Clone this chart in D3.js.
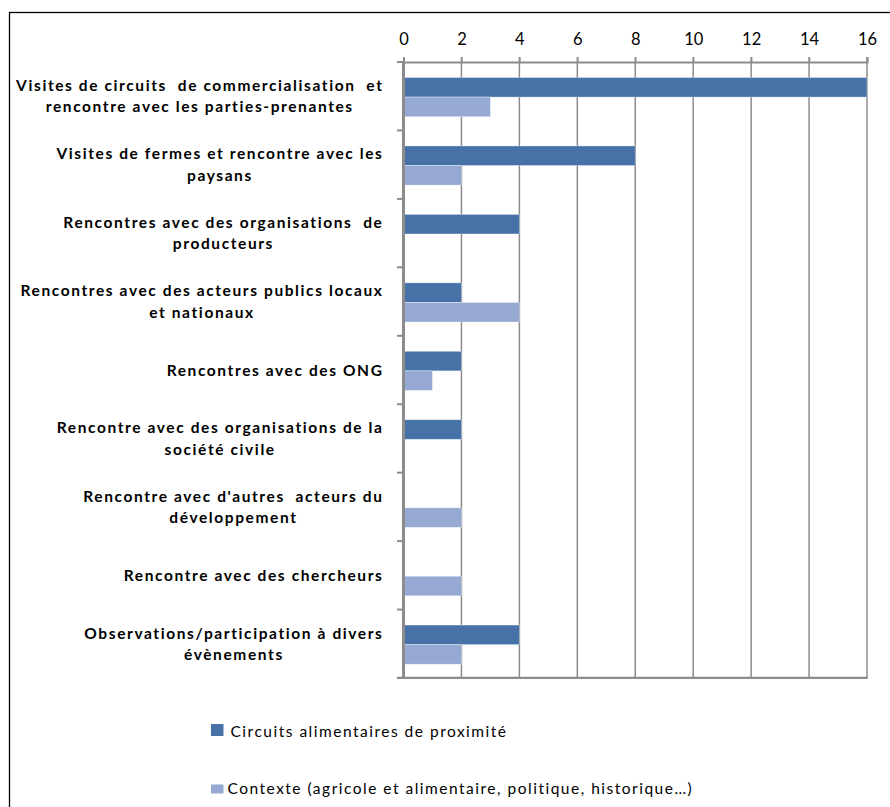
<!DOCTYPE html>
<html>
<head>
<meta charset="utf-8">
<script src="https://cdn.jsdelivr.net/npm/d3@7"></script>
<style>
  html, body { margin: 0; padding: 0; background: #fff; }
  svg { display: block; }
  text { font-family: Lato, "Open Sans", sans-serif; fill: #000; }
</style>
</head>
<body>
<svg id="chart" width="890" height="807"></svg>
<script>
// ---- data ----
const categories = [
  ["Visites de circuits  de commercialisation  et", "rencontre avec les parties-prenantes"],
  ["Visites de fermes et rencontre avec les", "paysans"],
  ["Rencontres avec des organisations  de", "producteurs"],
  ["Rencontres avec des acteurs publics locaux", "et nationaux"],
  ["Rencontres avec des ONG"],
  ["Rencontre avec des organisations de la", "société civile"],
  ["Rencontre avec d'autres  acteurs du", "développement"],
  ["Rencontre avec des chercheurs"],
  ["Observations/participation à divers", "évènements"]
];
const seriesNames = [
  "Circuits alimentaires de proximité",
  "Contexte (agricole et alimentaire, politique, historique…)"
];
const circuitsValues = [16, 8, 4, 2, 2, 2, 0, 0, 4];
const contexteValues = [3, 2, 0, 4, 1, 0, 2, 2, 2];
const xTicks = [0, 2, 4, 6, 8, 10, 12, 14, 16];
const colors = ["#4672a7", "#95a9d2"];

// ---- layout ----
const svg = d3.select("#chart");
svg.append("rect").attr("x", 9.5).attr("y", 12.5).attr("width", 900).attr("height", 820)
  .attr("fill", "#fff").attr("stroke", "#000").attr("stroke-width", 1.3);

const x = d3.scaleLinear().domain([0, 16]).range([403.5, 867]);
const y = d3.scaleBand().domain(d3.range(categories.length)).range([62, 678]).paddingInner(0);
const bw = y.bandwidth();
const barOffset = 15.5, barH = 19.6;

// gridlines
svg.append("g").selectAll("line").data(xTicks.slice(1)).join("line")
  .attr("x1", d => x(d)).attr("x2", d => x(d))
  .attr("y1", 57).attr("y2", 678)
  .attr("stroke", "#8c8c8c").attr("stroke-width", 1.5);

// top axis
const topAxis = d3.axisTop(x).tickValues(xTicks).tickSize(5).tickPadding(12);
const gTop = svg.append("g").attr("transform", "translate(0,62)").call(topAxis);
gTop.select(".domain").attr("stroke", "#8c8c8c").attr("stroke-width", 2);
gTop.selectAll(".tick line").attr("stroke", "#8c8c8c").attr("stroke-width", 1.5);
gTop.selectAll(".tick text").attr("font-size", 16.5).attr("font-family", "Lato, sans-serif").attr("fill", "#000");

// bars
const seriesVals = [circuitsValues, contexteValues];
seriesVals.forEach((vals, s) => {
  svg.append("g").selectAll("rect").data(vals).join("rect")
    .attr("x", x(0))
    .attr("y", (d, i) => y(i) + barOffset + s * barH)
    .attr("width", d => x(d) - x(0))
    .attr("height", barH)
    .attr("fill", colors[s])
    .attr("stroke", d => d > 0 ? "rgba(255,255,255,0.45)" : "none")
    .attr("stroke-width", 0.8);
});

// bottom line
svg.append("line").attr("x1", 397).attr("x2", 867.75).attr("y1", 677.8).attr("y2", 677.8)
  .attr("stroke", "#8c8c8c").attr("stroke-width", 2.3);

// left axis with boundary ticks
const boundaries = d3.range(categories.length + 1).map(i => 62 + i * bw);
svg.append("g").selectAll("line").data(boundaries.slice(0, -1)).join("line")
  .attr("x1", 397).attr("x2", 403).attr("y1", d => d).attr("y2", d => d)
  .attr("stroke", "#8c8c8c").attr("stroke-width", 2);
svg.append("line").attr("x1", 403.5).attr("x2", 403.5).attr("y1", 62).attr("y2", 679)
  .attr("stroke", "#8c8c8c").attr("stroke-width", 3);

// category labels
const labelRight = 383.5, lineH = 21.5, fs = 15.5, ls = 1.6;
const gLab = svg.append("g");
categories.forEach((lines, i) => {
  const c = y(i) + bw / 2;
  const g = gLab.append("g");
  const texts = lines.map(l => g.append("text").attr("font-size", fs).attr("font-weight", "bold")
    .attr("letter-spacing", ls)
    .attr("text-anchor", "middle").style("white-space", "pre").text(l));
  const widths = texts.map(t => t.node().getComputedTextLength());
  const blockW = d3.max(widths);
  const cx = labelRight - blockW / 2;
  const n = lines.length;
  texts.forEach((t, k) => {
    const base = c + (k - (n - 1) / 2) * lineH + 5.5;
    t.attr("x", cx).attr("y", base);
  });
});

// legend
const legendItems = [
  { sx: 211, sy: 724, sw: 12.5, sh: 12, tx: 230.5, ty: 737 },
  { sx: 211, sy: 784.5, sw: 12.5, sh: 9, tx: 227.5, ty: 794 }
];
const gLeg = svg.append("g");
seriesNames.forEach((name, s) => {
  const L = legendItems[s];
  gLeg.append("rect").attr("x", L.sx).attr("y", L.sy).attr("width", L.sw).attr("height", L.sh).attr("fill", colors[s]);
  gLeg.append("text").attr("x", L.tx).attr("y", L.ty).attr("font-size", 15.5)
    .attr("letter-spacing", 1.5).text(name);
});
</script>
</body>
</html>
